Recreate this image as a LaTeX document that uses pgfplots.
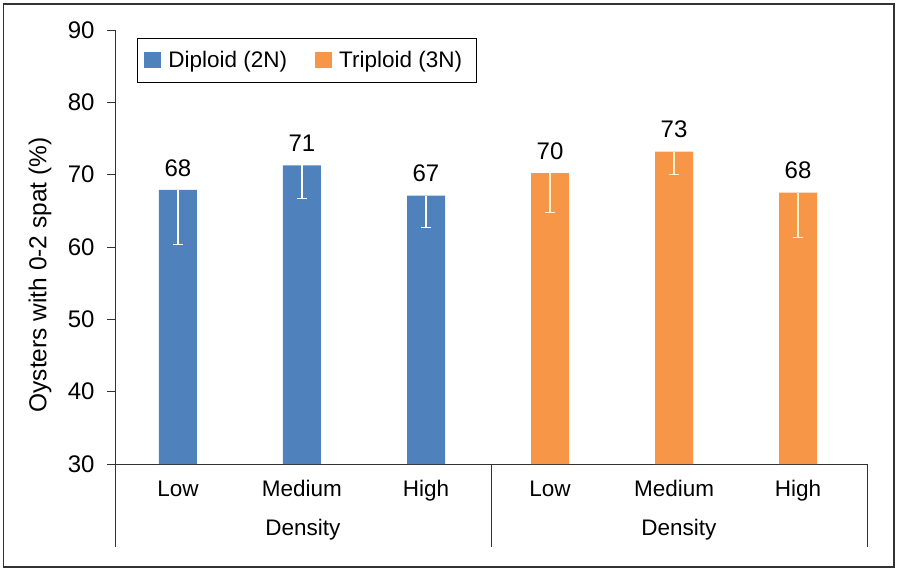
\documentclass[border=0pt]{standalone}
\usepackage{fontspec}
\setmainfont{Liberation Sans}
\usepackage{pgfplots}
\pgfplotsset{compat=1.18}

\definecolor{diploid}{RGB}{79,129,189}
\definecolor{triploid}{RGB}{247,150,70}
\definecolor{errpale}{RGB}{255,242,204}
\definecolor{axisgray}{RGB}{50,50,50}

\begin{document}
\begin{tikzpicture}[font=\fontsize{22.5bp}{27bp}\selectfont]
\begin{axis}[
    width=752bp, height=434bp, scale only axis,
    xmin=-0.508, xmax=5.556,
    ymin=30, ymax=90,
    ytick={30,40,...,90},
    xtick={0,...,5},
    xticklabels={Low,Medium,High,Low,Medium,High},
    x tick style={draw=none},
    xticklabel style={yshift=-5bp},
    y tick style={axisgray, line width=0.8bp},
    tick align=outside,
    major tick length=8bp,
    yticklabel style={xshift=-9bp, font=\fontsize{24bp}{28bp}\selectfont},
    /pgf/number format/assume math mode=true,
    axis x line*=bottom, axis y line*=left,
    axis line style={axisgray, line width=0.8bp, -},
    ylabel={Oysters with 0-2 spat (\%)},
    ylabel style={at={(rel axis cs:-0.0997,0.4355)}, anchor=center, font=\fontsize{24.5bp}{28bp}\selectfont},
    clip=false,
    legend columns=2,
    legend style={at={(rel axis cs:0.0293,0.9816)}, anchor=north west,
        draw=black, line width=0.8bp, inner xsep=7bp, inner ysep=11bp,
        nodes={inner xsep=7bp},
        /tikz/every even column/.append style={column sep=21bp}},
    legend image code/.code={\fill[#1] (0bp,-8bp) rectangle (17bp,8bp);},
    nodes near coords,
    point meta=explicit symbolic,
    every node near coord/.append style={yshift=10bp, black, font=\fontsize{24bp}{28bp}\selectfont},
]

\addplot[ybar, bar width=38bp, bar shift=0pt, fill=diploid, draw=none,
    error bars/.cd, y dir=minus, y explicit,
    error bar style={white, line width=1.2bp},
    error mark options={white, rotate=90, mark size=5bp, line width=1.2bp}]
    coordinates {
    (0,67.9) +- (0,7.6) [68]
    (1,71.3) +- (0,4.6) [71]
    (2,67.1) +- (0,4.4) [67]
    };
\addlegendentry{Diploid (2N)}

\addplot[ybar, bar width=38bp, bar shift=0pt, fill=triploid, draw=none,
    error bars/.cd, y dir=minus, y explicit,
    error bar style={errpale, line width=1.2bp},
    error mark options={errpale, rotate=90, mark size=5bp, line width=1.2bp}]
    coordinates {
    (3,70.2) +- (0,5.4) [70]
    (4,73.2) +- (0,3.2) [73]
    (5,67.5) +- (0,6.2) [68]
    };
\addlegendentry{Triploid (3N)}

% category frame under the x axis
\draw[axisgray, line width=0.8bp] (rel axis cs:0,0) -- (rel axis cs:0,-0.191);
\draw[axisgray, line width=0.8bp] (rel axis cs:0.5,0) -- (rel axis cs:0.5,-0.191);
\draw[axisgray, line width=0.8bp] (rel axis cs:1,0) -- (rel axis cs:1,-0.191);
\node at (rel axis cs:0.25,-0.152) {Density};
\node at (rel axis cs:0.75,-0.152) {Density};

% outer frame and page size
\draw[axisgray, line width=1.2bp] (rel axis cs:-0.1485,-0.2373) rectangle (rel axis cs:1.0359,1.0599);
\path (rel axis cs:-0.1529,-0.2535) rectangle (rel axis cs:1.0439,1.0691);
\end{axis}
\end{tikzpicture}
\end{document}
